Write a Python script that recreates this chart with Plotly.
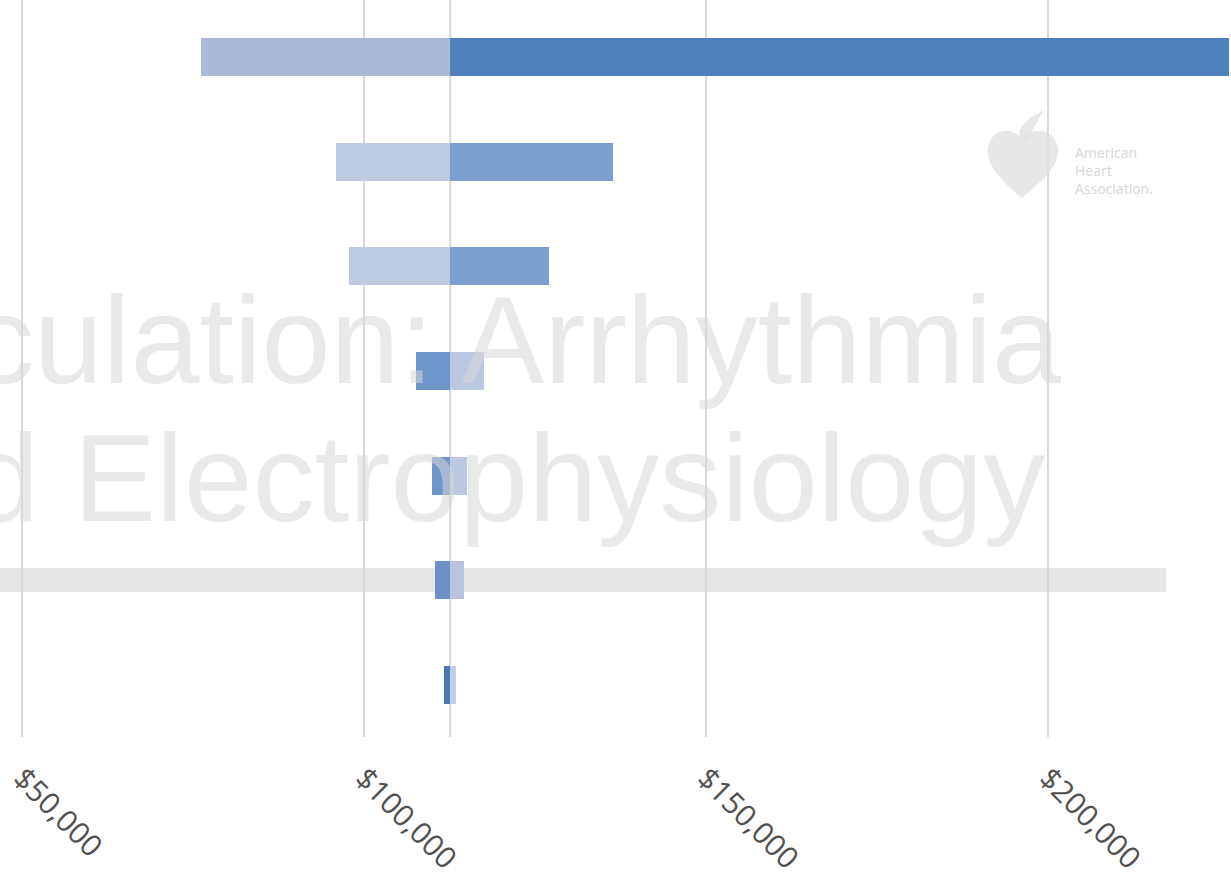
import plotly.graph_objects as go

# Data
rows = [0, 1, 2, 3, 4, 5, 6]
base_value = 112600
low_values = [76200, 95900, 97800, 107600, 109900, 110400, 111700]
high_values = [226500, 136400, 127000, 117500, 115100, 114600, 113450]
left_colors = ["#abb9d9", "#bfcae3", "#bfcae3", "#7097cb", "#7097cb", "#6a90c4", "#4a78b8"]
right_colors = ["#4f7fbc", "#7a9ecd", "#7a9ecd", "#bcc7e1", "#bcc7e1", "#b8c4e0", "#c3cde4"]
tick_values = [50000, 100000, 150000, 200000]
tick_labels = ["$50,000", "$100,000", "$150,000", "$200,000"]

fig = go.Figure()
fig.add_trace(go.Bar(
    y=rows, x=[v - base_value for v in low_values], base=base_value,
    orientation="h", marker=dict(color=left_colors, line=dict(width=0)),
    width=0.363, showlegend=False))
fig.add_trace(go.Bar(
    y=rows, x=[v - base_value for v in high_values], base=base_value,
    orientation="h", marker=dict(color=right_colors, line=dict(width=0)),
    width=0.363, showlegend=False))

def px(xp): return xp / 1231
def py(yp): return 1 - yp / 737

shapes = []
# light horizontal band (background image element)
shapes.append(dict(type="rect", xref="paper", yref="paper",
                   x0=0, x1=px(1166), y0=py(592), y1=py(568),
                   fillcolor="#e6e6e6", line=dict(width=0), layer="below"))
# base line
shapes.append(dict(type="line", xref="x", yref="paper", x0=base_value, x1=base_value,
                   y0=0, y1=1, line=dict(color="#d9d9d9", width=2), layer="below"))
# heart logo (faint)
heart = (f"M {px(1022)},{py(198)} "
         f"C {px(1000)},{py(180)} {px(986)},{py(165)} {px(988)},{py(148)} "
         f"C {px(990)},{py(130)} {px(1012)},{py(124)} {px(1022)},{py(140)} "
         f"C {px(1032)},{py(124)} {px(1056)},{py(130)} {px(1058)},{py(148)} "
         f"C {px(1060)},{py(165)} {px(1044)},{py(180)} {px(1022)},{py(198)} Z")
shapes.append(dict(type="path", xref="paper", yref="paper", path=heart,
                   fillcolor="rgba(225,225,225,0.8)", line=dict(width=0), layer="above"))
# torch flame on the logo
flame = (f"M {px(1020)},{py(140)} C {px(1016)},{py(125)} {px(1030)},{py(118)} {px(1044)},{py(110)} "
         f"C {px(1036)},{py(122)} {px(1034)},{py(132)} {px(1026)},{py(140)} Z")
shapes.append(dict(type="path", xref="paper", yref="paper", path=flame,
                   fillcolor="rgba(225,225,225,0.8)", line=dict(width=0), layer="above"))

annotations = [
    dict(text="culation: Arrhythmia", xref="paper", yref="paper",
         x=px(1063), y=py(340), xanchor="right", yanchor="middle", showarrow=False,
         font=dict(family="Liberation Sans", size=124, color="rgba(215,215,215,0.55)")),
    dict(text="d Electrophysiology", xref="paper", yref="paper",
         x=px(1047), y=py(478), xanchor="right", yanchor="middle", showarrow=False,
         font=dict(family="Liberation Sans", size=124, color="rgba(215,215,215,0.55)")),
    dict(text="American<br>Heart<br>Association.", xref="paper", yref="paper",
         x=px(1073), y=py(170), xanchor="left", yanchor="middle", align="left",
         showarrow=False,
         font=dict(family="Open Sans", size=14, color="#d6d6d6")),
]

fig.update_layout(
    width=1231, height=878,
    margin=dict(l=0, r=0, t=0, b=141),
    paper_bgcolor="white", plot_bgcolor="white",
    barmode="overlay", bargap=0,
    shapes=shapes, annotations=annotations,
    xaxis=dict(range=[46784, 226754], tickvals=tick_values, ticktext=tick_labels,
               tickangle=45, showgrid=True, gridcolor="#d9d9d9", gridwidth=2,
               zeroline=False, showline=False, ticks="outside", ticklen=11,
               tickcolor="rgba(0,0,0,0)", automargin=False,
               tickfont=dict(family="Open Sans", size=30, color="#505050")),
    yaxis=dict(range=[6.497, -0.545], showgrid=False, zeroline=False,
               showticklabels=False, showline=False, automargin=False),
)

fig.write_html("out.html", config={"displayModeBar": False},
               post_script="document.body.style.margin='0';")
